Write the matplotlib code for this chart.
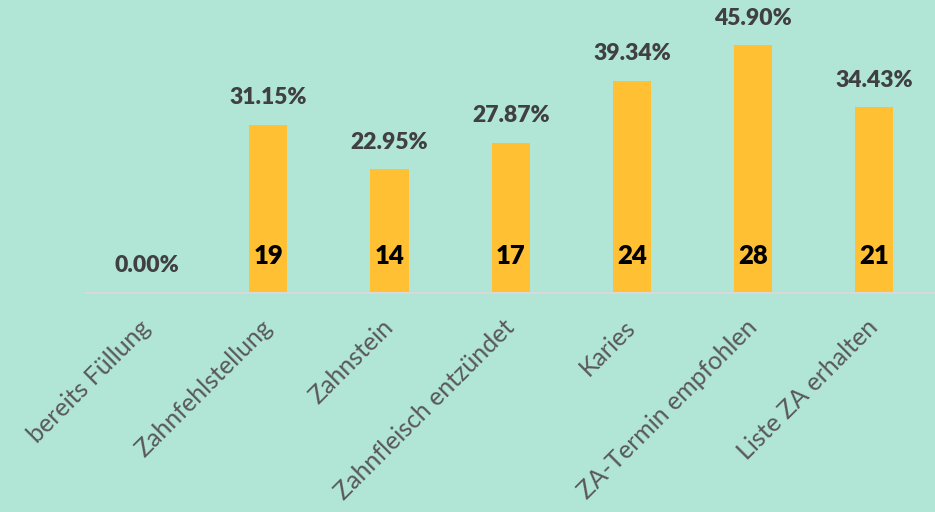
import matplotlib
matplotlib.use("Agg")
import matplotlib.pyplot as plt

categories = ["bereits Füllung", "Zahnfehlstellung", "Zahnstein", "Zahnfleisch entzündet",
              "Karies", "ZA-Termin empfohlen", "Liste ZA erhalten"]
percents = [0.00, 31.15, 22.95, 27.87, 39.34, 45.90, 34.43]
counts = [0, 19, 14, 17, 24, 28, 21]

bg = "#B1E5D6"
bar_color = "#FFC133"

plt.rcParams["font.family"] = ["Lato", "DejaVu Sans"]

fig = plt.figure(figsize=(9.35, 5.12), dpi=100, facecolor=bg)
ax = fig.add_axes([0.0925, 0.4277, 0.9075, 0.5723])
ax.set_facecolor(bg)

x = list(range(len(categories)))
ax.bar(x, percents, width=0.314, color=bar_color, zorder=2)

for xi, p, c in zip(x, percents, counts):
    ax.annotate(f"{p:.2f}%", (xi, p), xytext=(0, 19.5), textcoords="offset points",
                ha="center", va="center", fontsize=16.5, fontweight="heavy", color="#404040")
    if c > 0:
        ax.text(xi, 6.9, str(c), ha="center", va="center", fontsize=18.5,
                fontweight="heavy", color="black", zorder=3)

ax.set_xlim(-0.5, len(categories) - 0.5)
ax.set_ylim(0, 54.3)
ax.set_yticks([])
ax.set_xticks(x)
ax.set_xticklabels(categories, rotation=45, ha="right", va="center",
                   rotation_mode="anchor", fontsize=18, color="#595959")
ax.tick_params(axis="x", length=0, pad=22)

for side in ["top", "right", "left"]:
    ax.spines[side].set_visible(False)
ax.spines["bottom"].set_color("#D9D9D9")
ax.spines["bottom"].set_linewidth(1.5)

fig.savefig("out.png", dpi=100, facecolor=bg)
